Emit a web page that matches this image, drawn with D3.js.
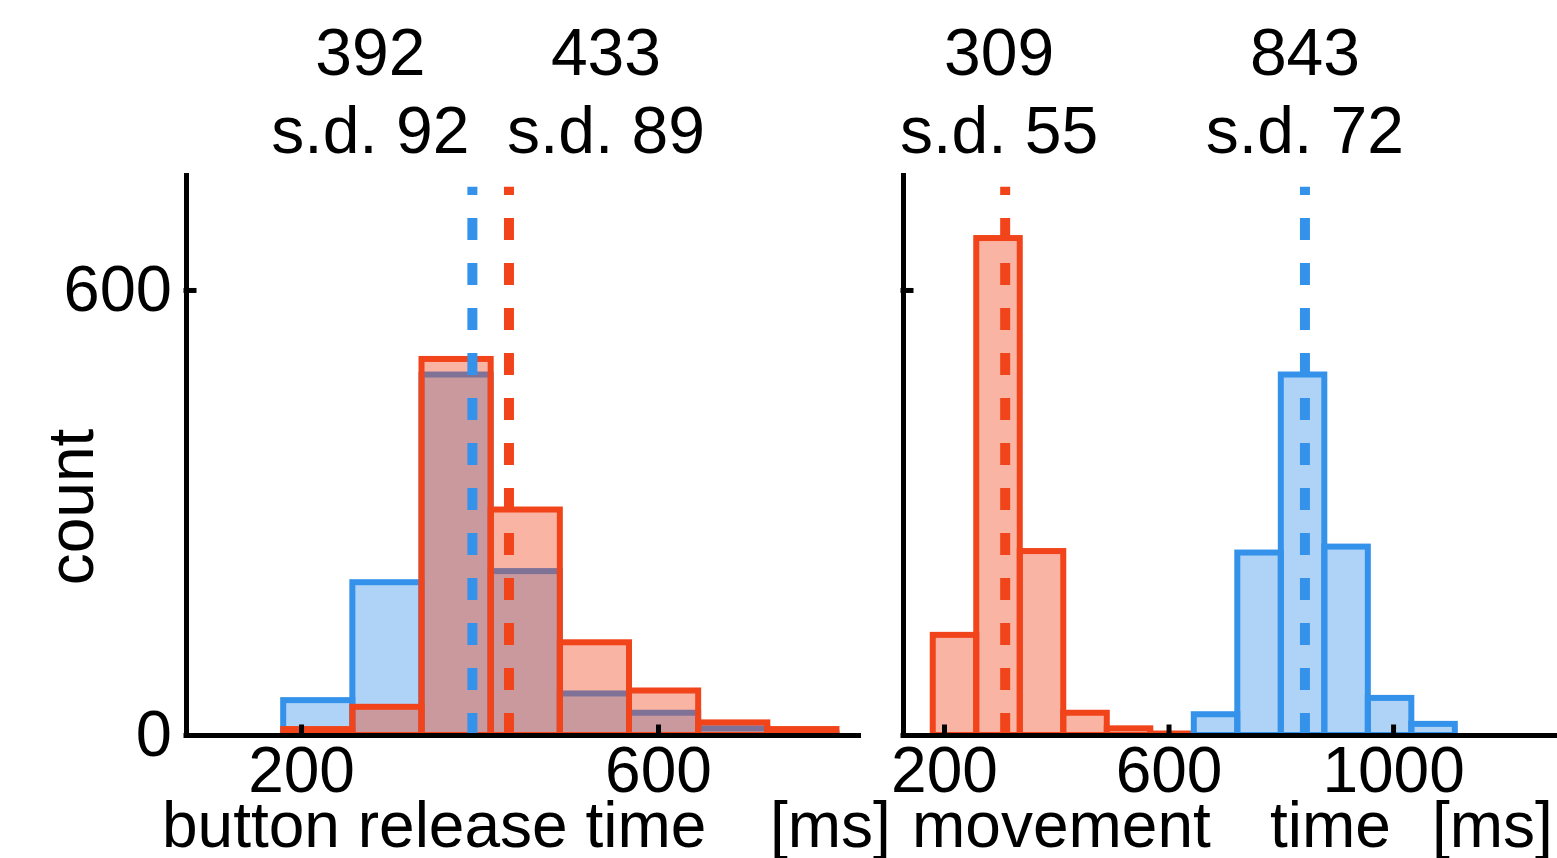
<!DOCTYPE html>
<html>
<head>
<meta charset="utf-8">
<script src="https://cdn.jsdelivr.net/npm/d3@7"></script>
<style>
    body { margin: 0; background: #fff; }
    text { font-family: "Liberation Sans", Arial, sans-serif; fill: #000; }
</style>
</head>
<body>
<script>
// histogram bins (ms), shared by both panels
var binEdges = [180, 257.5, 335, 412.5, 490, 567.5, 645, 722.5, 800, 877.5, 955, 1032.5, 1110];

// button release time, counts per bin
var releaseBlue = [47, 206, 486, 221, 56, 30, 9, 2, 0, 0, 0, 0];
var releaseRed  = [8, 38, 507, 304, 125, 60, 17, 8, 0, 0, 0, 0];

// movement time, counts per bin
var movementRed  = [135, 670, 248, 30, 9, 2, 0, 0, 0, 0, 0, 0];
var movementBlue = [0, 0, 0, 0, 0, 0, 28, 246, 486, 254, 50, 15];

// means / s.d. shown above each panel
var releaseMeans = [392, 433];
var releaseSds = [92, 89];
var movementMeans = [309, 843];
var movementSds = [55, 72];

var yTicks = [0, 600];
var releaseTicks = [200, 600];
var movementTicks = [200, 600, 1000];

var blue = '#3592ea';
var red = '#f2441a';
var faceAlpha = 0.4;

var svg = d3.select('body').append('svg')
    .attr('width', 1557)
    .attr('height', 858);

var y = d3.scaleLinear().domain([0, 755]).range([735, 175]);
var meanTop = 739;

// left panel: button release time
var xLeft = d3.scaleLinear().domain([71.1, 824.1]).range([186, 858]);
// right panel: movement time
var xRight = d3.scaleLinear().domain([127, 1292]).range([903, 1557]);

function bins(counts) {
    var out = [];
    counts.forEach(function (c, i) {
        if (c > 0) out.push({ x0: binEdges[i], x1: binEdges[i + 1], count: c });
    });
    return out;
}

function drawBars(g, x, counts, color) {
    g.append('g').selectAll('rect')
        .data(bins(counts))
        .enter().append('rect')
        .attr('x', function (d) { return x(d.x0); })
        .attr('width', function (d) { return x(d.x1) - x(d.x0); })
        .attr('y', function (d) { return y(d.count); })
        .attr('height', function (d) { return y(0) - y(d.count); })
        .attr('fill', color)
        .attr('fill-opacity', faceAlpha)
        .attr('stroke', color)
        .attr('stroke-width', 6);
}

function drawMean(g, x, value, color) {
    g.append('line')
        .attr('x1', x(value)).attr('x2', x(value))
        .attr('y1', y(0)).attr('y2', y(meanTop))
        .attr('stroke', color)
        .attr('stroke-width', 10)
        .attr('stroke-dasharray', '22,23');
}

function drawAxes(g, x, xTicks, showYLabels) {
    var ax = g.append('g')
        .attr('transform', 'translate(0,' + y(0) + ')')
        .call(d3.axisBottom(x).tickValues(xTicks).tickSizeInner(-8).tickSizeOuter(0).tickPadding(12)
            .tickFormat(d3.format('d')));
    ax.selectAll('text').style('font-size', '64px');

    var ay = g.append('g')
        .attr('transform', 'translate(' + x.range()[0] + ',0)')
        .call(d3.axisLeft(y).tickValues(yTicks).tickSizeInner(-8).tickSizeOuter(0).tickPadding(14)
            .tickFormat(showYLabels ? d3.format('d') : function () { return ''; }));
    ay.selectAll('text').style('font-size', '65px');

    g.selectAll('.domain, .tick line')
        .attr('stroke', '#000')
        .attr('stroke-width', 5)
        .attr('stroke-linecap', 'square');
}

function drawStats(g, x, means, sds, offsets) {
    means.forEach(function (m, i) {
        var cx = x(m) + offsets[i];
        g.append('text')
            .attr('x', cx).attr('y', 75)
            .attr('text-anchor', 'middle')
            .style('font-size', '66px')
            .text(m);
        g.append('text')
            .attr('x', cx).attr('y', 153)
            .attr('text-anchor', 'middle')
            .style('font-size', '66px')
            .text('s.d. ' + sds[i]);
    });
}

// left panel
var left = svg.append('g');
drawBars(left, xLeft, releaseBlue, blue);
drawBars(left, xLeft, releaseRed, red);
drawMean(left, xLeft, releaseMeans[0], blue);
drawMean(left, xLeft, releaseMeans[1], red);
drawAxes(left, xLeft, releaseTicks, true);
drawStats(left, xLeft, releaseMeans, releaseSds, [-102, 97]);

// right panel
var right = svg.append('g');
drawBars(right, xRight, movementRed, red);
drawBars(right, xRight, movementBlue, blue);
drawMean(right, xRight, movementMeans[0], red);
drawMean(right, xRight, movementMeans[1], blue);
drawAxes(right, xRight, movementTicks, false);
drawStats(right, xRight, movementMeans, movementSds, [-6, 0]);

// axis titles
svg.append('text')
    .attr('transform', 'translate(93,507) rotate(-90)')
    .attr('text-anchor', 'middle')
    .style('font-size', '64px')
    .text('count');

var xTitles = [
    { text: 'button release time', x: 162 },
    { text: '[ms]', x: 770 },
    { text: 'movement', x: 912 },
    { text: 'time', x: 1270 },
    { text: '[ms]', x: 1432 }
];
svg.selectAll('.xtitle')
    .data(xTitles)
    .enter().append('text')
    .attr('class', 'xtitle')
    .attr('x', function (d) { return d.x; })
    .attr('y', 847)
    .style('font-size', '64px')
    .text(function (d) { return d.text; });
</script>
</body>
</html>
